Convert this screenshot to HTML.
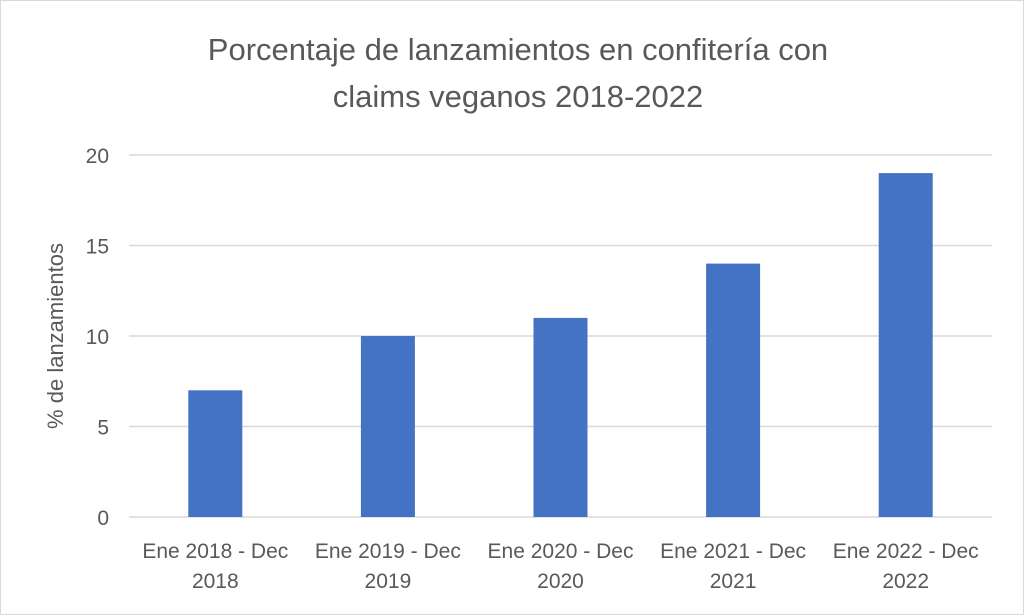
<!DOCTYPE html>
<html><head><meta charset="utf-8"><style>
html,body{margin:0;padding:0;background:#fff;}
svg{display:block;font-family:"Liberation Sans",sans-serif;}
</style></head><body>
<svg id="chart" width="1024" height="615" viewBox="0 0 1024 615">
<rect x="0.5" y="0.5" width="1023" height="614" fill="#fff" stroke="#d9d9d9"/>
<text x="518" y="60" text-anchor="middle" font-size="31" fill="#595959">Porcentaje de lanzamientos en confitería con</text>
<text x="518" y="107" text-anchor="middle" font-size="31" fill="#595959">claims veganos 2018-2022</text>
<text transform="translate(63,336) rotate(-90)" text-anchor="middle" font-size="22" fill="#595959">% de lanzamientos</text>
<g id="grid"></g><g id="bars"></g><g id="xlabels"></g>
</svg>
<script>
const categories = ["Ene 2018 - Dec|2018","Ene 2019 - Dec|2019","Ene 2020 - Dec|2020","Ene 2021 - Dec|2021","Ene 2022 - Dec|2022"];
const values = [7,10,11,14,19];
const yTicks = [0,5,10,15,20];
const NS="http://www.w3.org/2000/svg";
const x0=129,x1=992,y0=517,y1=155,yMax=20;
const y=v=>y0-(v/yMax)*(y0-y1);
const band=(x1-x0)/categories.length;
const xc=i=>x0+band*(i+0.5);
const bw=54;
const grid=document.getElementById('grid'),bars=document.getElementById('bars'),xl=document.getElementById('xlabels');
yTicks.forEach(t=>{
  const l=document.createElementNS(NS,'line');
  l.setAttribute('x1',x0);l.setAttribute('x2',x1);l.setAttribute('y1',y(t));l.setAttribute('y2',y(t));
  l.setAttribute('stroke','#d9d9d9');l.setAttribute('stroke-width','1.5');
  
  
  grid.appendChild(l);
  const tx=document.createElementNS(NS,'text');
  tx.setAttribute('x',109);tx.setAttribute('y',y(t)+8);tx.setAttribute('text-anchor','end');
  tx.setAttribute('font-size','21');tx.setAttribute('fill','#595959');tx.textContent=t;
  
  
  grid.appendChild(tx);
});
values.forEach((v,i)=>{
  const r=document.createElementNS(NS,'rect');
  r.setAttribute('x',xc(i)-bw/2);r.setAttribute('y',y(v));r.setAttribute('width',bw);r.setAttribute('height',y0-y(v));
  r.setAttribute('fill','#4472c4');
  
  
  bars.appendChild(r);
});
categories.forEach((c,i)=>{
  c.split('|').forEach((p,j)=>{
    const tx=document.createElementNS(NS,'text');
    tx.setAttribute('x',xc(i));tx.setAttribute('y',558+j*30);tx.setAttribute('text-anchor','middle');
    tx.setAttribute('font-size','21');tx.setAttribute('fill','#595959');tx.textContent=p;
    
    
    xl.appendChild(tx);
  });
});
</script>
</body></html>
